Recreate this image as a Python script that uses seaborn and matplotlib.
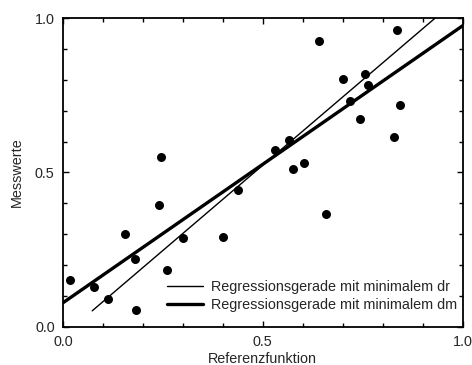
import numpy as np
import pandas as pd
import seaborn as sns
import matplotlib.pyplot as plt
from matplotlib.ticker import MultipleLocator

# Messpunkte
referenz = [0.018, 0.078, 0.112, 0.155, 0.180, 0.183, 0.240, 0.246, 0.260, 0.300,
            0.400, 0.437, 0.531, 0.565, 0.576, 0.602, 0.640, 0.659, 0.700, 0.718,
            0.744, 0.756, 0.762, 0.827, 0.835, 0.844]
messwerte = [0.151, 0.129, 0.088, 0.300, 0.218, 0.053, 0.394, 0.551, 0.184, 0.287,
             0.292, 0.443, 0.572, 0.605, 0.512, 0.530, 0.926, 0.365, 0.803, 0.732,
             0.674, 0.819, 0.782, 0.615, 0.962, 0.718]

# Regressionsgeraden: Achsenabschnitt, Steigung, x-Bereich
labels = ['Regressionsgerade mit minimalem dr', 'Regressionsgerade mit minimalem dm']
intercepts = [-0.030, 0.077]
slopes = [1.107, 0.899]
x_start = [0.073, 0.0]
x_end = [1.0, 1.0]
widths = [1.0, 2.4]

sns.set_style('ticks')
plt.rcParams['font.family'] = ['Liberation Sans', 'DejaVu Sans']

fig, ax = plt.subplots(figsize=(4.72, 3.65), dpi=100)
fig.subplots_adjust(left=63 / 472, right=462.7 / 472,
                    bottom=1 - 326.5 / 365, top=1 - 18.3 / 365)

df = pd.DataFrame({'Referenzfunktion': referenz, 'Messwerte': messwerte})
sns.scatterplot(data=df, x='Referenzfunktion', y='Messwerte', ax=ax,
                color='black', s=42, edgecolor='black', linewidth=0, zorder=3)

for lab, b, m, x0, x1, lw in zip(labels, intercepts, slopes, x_start, x_end, widths):
    xs = np.array([x0, x1])
    ax.plot(xs, b + m * xs, color='black', lw=lw, label=lab, zorder=2)

ax.set_xlim(0, 1)
ax.set_ylim(0, 1)
ax.xaxis.set_major_locator(MultipleLocator(0.5))
ax.yaxis.set_major_locator(MultipleLocator(0.5))
ax.xaxis.set_minor_locator(MultipleLocator(0.1))
ax.yaxis.set_minor_locator(MultipleLocator(0.1))
ax.xaxis.set_major_formatter(lambda v, p: f'{v:.1f}')
ax.yaxis.set_major_formatter(lambda v, p: f'{v:.1f}')
ax.tick_params(which='both', direction='in', top=True, right=True,
               width=1, color='black', labelsize=10.4, pad=6)
ax.tick_params(which='major', length=4)
ax.tick_params(which='minor', length=3)
for sp in ax.spines.values():
    sp.set_visible(True)
    sp.set_linewidth(1.3)
    sp.set_color('black')

ax.set_xlabel('Referenzfunktion', fontsize=10.4, labelpad=2)
ax.set_ylabel('Messwerte', fontsize=10.4, labelpad=8)

leg = ax.legend(loc='upper left', bbox_to_anchor=(0.259, 0.15), frameon=False,
                fontsize=10.4, borderpad=0, borderaxespad=0, handlelength=2.5,
                handletextpad=0.55, labelspacing=0.27)

fig.savefig('out.png', dpi=100)
